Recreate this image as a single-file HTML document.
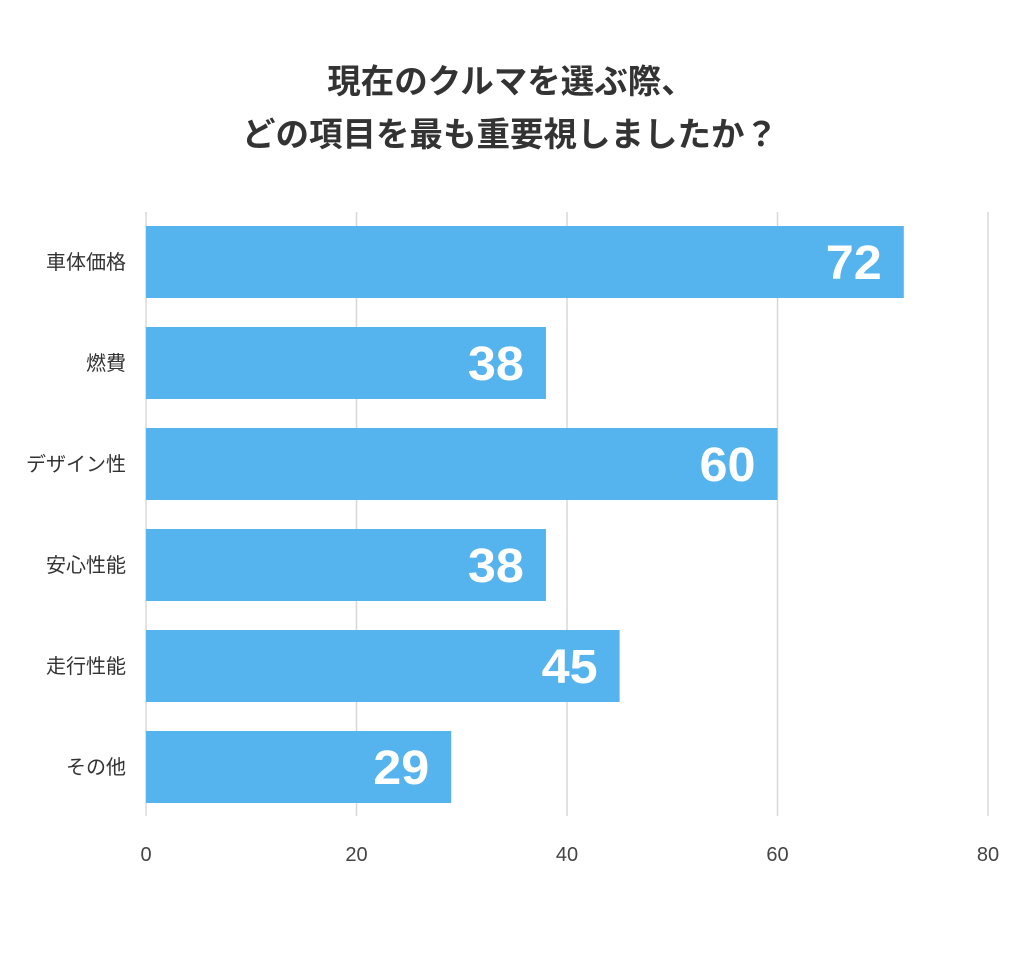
<!DOCTYPE html>
<html><head><meta charset="utf-8"><style>
html,body{margin:0;padding:0;background:#fff;}
body{width:1024px;height:953px;overflow:hidden;font-family:"Liberation Sans","Noto Sans CJK JP",sans-serif;}
</style></head><body>
<svg id="chart" width="1024" height="953" xmlns="http://www.w3.org/2000/svg">
<text x="511" y="93" text-anchor="middle" font-size="33.5" font-weight="bold" fill="#333" font-family="Liberation Sans, Noto Sans CJK JP, sans-serif">現在のクルマを選ぶ際、</text>
<text x="510" y="146" text-anchor="middle" font-size="33.5" font-weight="bold" fill="#333" font-family="Liberation Sans, Noto Sans CJK JP, sans-serif">どの項目を最も重要視しましたか？</text>
<g id="grid"></g><g id="bars"></g><g id="labels"></g>
</svg>
<script>
const categories = ["車体価格","燃費","デザイン性","安心性能","走行性能","その他"];
const values = [72,38,60,38,45,29];
const ticks = [0,20,40,60,80];
const NS="http://www.w3.org/2000/svg";
const x0=146,x1=988,xmax=80;
const xs=v=>x0+(x1-x0)*v/xmax;
const top0=226,pitch=101,bh=72;
const ys=i=>top0+i*pitch;
function mk(t,a,p){const e=document.createElementNS(NS,t);for(const k in a)e.setAttribute(k,a[k]);p.appendChild(e);return e;}
const grid=document.getElementById('grid'),bars=document.getElementById('bars'),labs=document.getElementById('labels');
ticks.forEach(t=>{
 const l=mk('line',{x1:xs(t),x2:xs(t),y1:212,y2:816,stroke:'#d8d8d8','stroke-width':1.5},grid);
 
 
 const tx=mk('text',{x:xs(t),y:861,'text-anchor':'middle','font-size':20,fill:'#444'},grid);
 tx.textContent=t;
 
 
});
categories.forEach((c,i)=>{
 const r=mk('rect',{x:x0,y:ys(i),width:xs(values[i])-x0,height:bh,fill:'#55b4ee'},bars);
 
 
 const s=String(values[i]);
 const v=mk('text',{x:xs(values[i])-22,y:ys(i)+bh/2+17,'text-anchor':'end','font-size':48,'font-weight':'bold',fill:'#fff',textLength:s.length*28,lengthAdjust:'spacingAndGlyphs'},labs);
 v.textContent=s;
 
 
 const cl=mk('text',{x:126,y:ys(i)+bh/2+7,'text-anchor':'end','font-size':20,fill:'#333'},labs);
 cl.textContent=c;
 
 
});
</script>
</body></html>
